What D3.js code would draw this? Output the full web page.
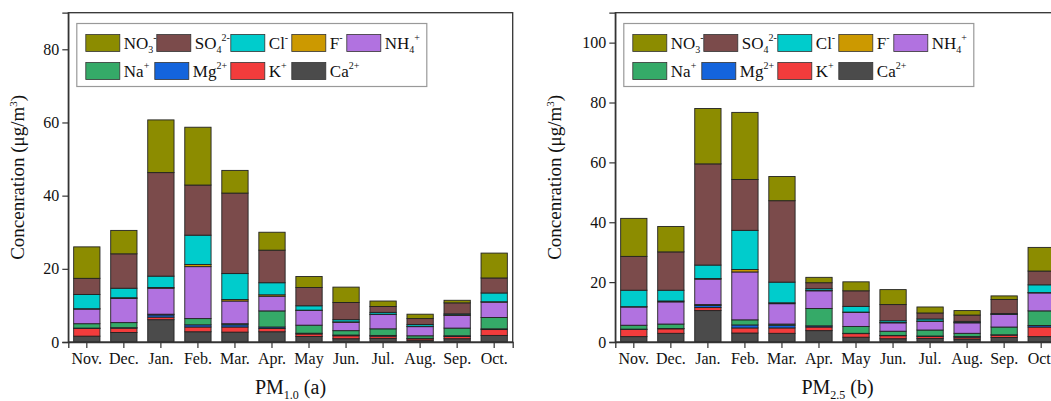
<!DOCTYPE html>
<html>
<meta charset="utf-8" />
<script src="https://d3js.org/d3.v7.min.js"></script>
<style>
  body { margin: 0; background: #fff; overflow: hidden; }
  svg text { font-family: "Liberation Serif", Tinos, "Times New Roman", Times, "DejaVu Serif", serif; fill: #111; }
</style>
<body>
<div id="chart"></div>
<script>
// months and ions (stacking order bottom -> top)
var months = ["Nov.", "Dec.", "Jan.", "Feb.", "Mar.", "Apr.", "May", "Jun.", "Jul.", "Aug.", "Sep.", "Oct."];
var ions = ["Ca", "K", "Mg", "Na", "NH4", "F", "Cl", "SO4", "NO3"];

// PM10 (a)
var pm10Ca  = [1.6, 2.6, 6.1, 2.8, 2.7, 2.8, 1.5, 0.9, 1.0, 0.5, 0.9, 1.8];
var pm10K   = [2.1, 1.2, 0.7, 1.3, 1.4, 0.9, 0.7, 0.8, 0.6, 0.4, 0.6, 1.6];
var pm10Mg  = [0.1, 0.1, 0.6, 0.6, 0.6, 0.4, 0.2, 0.2, 0.2, 0.1, 0.2, 0.2];
var pm10Na  = [1.2, 1.4, 0.2, 1.7, 0.3, 4.4, 2.2, 1.2, 1.8, 0.7, 2.1, 3.1];
var pm10NH4 = [4.0, 6.6, 7.1, 14.2, 6.2, 4.0, 4.0, 2.3, 3.9, 2.5, 3.5, 4.2];
var pm10F   = [0.1, 0.2, 0.2, 0.6, 0.4, 0.4, 0.1, 0.1, 0.1, 0.1, 0.1, 0.1];
var pm10Cl  = [3.9, 2.6, 3.1, 8.0, 7.1, 3.3, 1.2, 0.6, 0.5, 0.5, 0.3, 2.4];
var pm10SO4 = [4.4, 9.4, 28.3, 13.7, 22.0, 8.9, 5.0, 4.7, 1.6, 1.6, 3.0, 4.1];
var pm10NO3 = [8.6, 6.4, 14.4, 15.8, 6.2, 4.9, 3.0, 4.2, 1.5, 1.2, 0.7, 6.8];

// PM2.5 (b)
var pm25Ca  = [1.8, 2.9, 10.5, 3.0, 2.9, 3.8, 1.6, 1.1, 1.2, 1.0, 1.5, 1.8];
var pm25K   = [2.4, 1.5, 1.0, 1.7, 1.8, 1.2, 1.2, 1.0, 0.7, 0.6, 0.8, 3.2];
var pm25Mg  = [0.1, 0.1, 0.7, 1.0, 0.9, 0.4, 0.1, 0.1, 0.1, 0.2, 0.1, 0.5];
var pm25Na  = [1.3, 1.5, 0.3, 1.7, 0.4, 5.8, 2.3, 1.4, 2.0, 1.1, 2.6, 4.9];
var pm25NH4 = [6.1, 7.4, 8.5, 16.0, 6.8, 5.9, 4.7, 2.8, 2.9, 3.5, 4.2, 6.0];
var pm25F   = [0.1, 0.3, 0.2, 0.8, 0.3, 0.1, 0.1, 0.1, 0.1, 0.1, 0.1, 0.1];
var pm25Cl  = [5.5, 3.6, 4.5, 13.1, 6.9, 0.6, 1.9, 0.6, 0.7, 0.4, 0.2, 2.6];
var pm25SO4 = [11.3, 12.8, 33.8, 17.0, 27.2, 2.0, 5.2, 5.4, 2.0, 2.1, 4.7, 4.6];
var pm25NO3 = [12.7, 8.5, 18.5, 22.4, 8.1, 1.8, 3.0, 5.0, 2.0, 1.5, 1.2, 7.9];

var ticks10 = [0, 20, 40, 60, 80];
var ticks25 = [0, 20, 40, 60, 80, 100];

var colors = {
  NO3: "#8c8c00", SO4: "#7b4b4b", Cl: "#00cccc", F: "#cc9900", NH4: "#b172e0",
  Na: "#35aa68", Mg: "#1464dc", K: "#f23c3c", Ca: "#4b4b4b"
};

// legend labels: [key, base, sub, sup]
var legendRows = [
  [["NO3", "NO", "3", "-"], ["SO4", "SO", "4", "2-"], ["Cl", "Cl", "", "-"], ["F", "F", "", "-"], ["NH4", "NH", "4", "+"]],
  [["Na", "Na", "", "+"], ["Mg", "Mg", "", "2+"], ["K", "K", "", "+"], ["Ca", "Ca", "", "2+"]]
];
var legendX = [[9, 80, 154, 215, 270], [9, 78, 154, 215]];

var fontStack = "Liberation Serif, Tinos, Times New Roman, Times, DejaVu Serif, serif";

var svg = d3.select("#chart").append("svg")
  .attr("width", 1100)
  .attr("height", 401)
  .attr("font-family", fontStack);

function rows(cols) {
  return months.map(function(m, i) {
    var r = { month: m };
    ions.forEach(function(k, j) { r[k] = cols[j][i]; });
    return r;
  });
}

function drawChart(left, data, yMax, yTicks, title, sub, tag, titleX) {
  var width = 444.4, top = 12.7, bottom = 342;
  var g = svg.append("g").attr("transform", "translate(" + left + ",0)");

  var x = d3.scaleBand().domain(months).range([0, width]).paddingInner(0.29).paddingOuter(0.145);
  var y = d3.scaleLinear().domain([0, yMax]).range([bottom, top]);

  var series = d3.stack().keys(ions)(data);

  g.append("g").selectAll("g")
    .data(series)
    .enter().append("g")
      .attr("fill", function(d) { return colors[d.key]; })
    .selectAll("rect")
    .data(function(d) { return d; })
    .enter().append("rect")
      .attr("x", function(d) { return x(d.data.month); })
      .attr("y", function(d) { return y(d[1]); })
      .attr("width", x.bandwidth())
      .attr("height", function(d) { return y(d[0]) - y(d[1]); })
      .attr("stroke", "#222")
      .attr("stroke-width", 0.9);

  // frame
  g.append("rect")
    .attr("x", 0).attr("y", top)
    .attr("width", width).attr("height", bottom - top)
    .attr("fill", "none").attr("stroke", "#333").attr("stroke-width", 1.3);

  var xAxis = g.append("g")
    .attr("transform", "translate(0," + bottom + ")")
    .call(d3.axisBottom(x).tickSize(6).tickPadding(5));
  xAxis.attr("font-family", fontStack);
  xAxis.select(".domain").attr("stroke", "#333").attr("stroke-width", 1.3);
  xAxis.selectAll("line").attr("stroke", "#333").attr("stroke-width", 1.2);
  xAxis.selectAll("text").attr("font-size", 16).attr("fill", "#111");

  var yAxis = g.append("g")
    .call(d3.axisLeft(y).tickValues(yTicks).tickSize(6).tickPadding(3));
  yAxis.attr("font-family", fontStack);
  yAxis.select(".domain").attr("stroke", "#333").attr("stroke-width", 1.3);
  yAxis.selectAll("line").attr("stroke", "#333").attr("stroke-width", 1.2);
  yAxis.selectAll("text").attr("font-size", 16).attr("fill", "#111");

  // y title
  var yt = g.append("text")
    .attr("transform", "translate(" + titleX + "," + ((top + bottom) / 2) + ") rotate(-90)")
    .attr("text-anchor", "middle")
    .attr("font-size", 19);
  yt.append("tspan").text("Concenration (μg/m");
  yt.append("tspan").attr("font-size", 11).attr("dy", -7).text("3");
  yt.append("tspan").attr("dy", 7).text(")");

  // x title
  var xt = g.append("text")
    .attr("x", width / 2).attr("y", 394)
    .attr("text-anchor", "middle")
    .attr("font-size", 20);
  xt.append("tspan").text(title);
  xt.append("tspan").attr("font-size", 12).attr("dy", 5).text(sub);
  xt.append("tspan").attr("dy", -5).text(" " + tag);

  // legend
  var lg = g.append("g").attr("transform", "translate(8.5,23.5)");
  lg.append("rect")
    .attr("width", 350).attr("height", 63)
    .attr("fill", "#fff").attr("stroke", "#999").attr("stroke-width", 1.2);
  legendRows.forEach(function(row, ri) {
    row.forEach(function(item, ci) {
      var it = lg.append("g").attr("transform", "translate(" + legendX[ri][ci] + "," + (11 + ri * 28) + ")");
      it.append("rect").attr("width", 34).attr("height", 17)
        .attr("fill", colors[item[0]]).attr("stroke", "#333").attr("stroke-width", 0.8);
      var t = it.append("text").attr("x", 38).attr("y", 14).attr("font-size", 17);
      t.append("tspan").text(item[1]);
      if (item[2]) t.append("tspan").attr("font-size", 10).attr("dy", 4).text(item[2]);
      if (item[3]) t.append("tspan").attr("font-size", 10).attr("dy", item[2] ? -12 : -8).text(item[3]);
    });
  });
}

drawChart(68.3,
  rows([pm10Ca, pm10K, pm10Mg, pm10Na, pm10NH4, pm10F, pm10Cl, pm10SO4, pm10NO3]),
  90, ticks10, "PM", "1.0", "(a)", -44);

drawChart(615.3,
  rows([pm25Ca, pm25K, pm25Mg, pm25Na, pm25NH4, pm25F, pm25Cl, pm25SO4, pm25NO3]),
  110, ticks25, "PM", "2.5", "(b)", -54);
</script>
</body>
</html>
